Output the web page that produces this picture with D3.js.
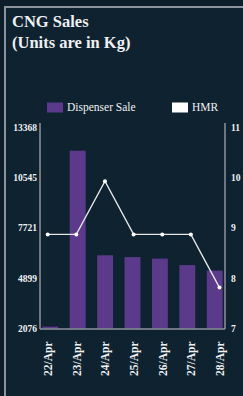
<!DOCTYPE html>
<html lang="en">
<head>
    <meta charset="UTF-8">
    <title>CNG Sales</title>
    <script src="https://d3js.org/d3.v7.min.js"></script>
    <style>
        body { margin: 0; background: #0d1d29; }
        svg text { font-family: "Liberation Serif", "DejaVu Serif", serif; fill: #eef0f2; }
        .tick-label { font-size: 9.5px; font-weight: bold; }
        .x-label { font-size: 11.5px; font-weight: bold; }
        .legend-label { font-size: 11.5px; }
        .title { font-size: 16.5px; font-weight: bold; }
    </style>
</head>
<body>
    <svg width="243" height="396"></svg>

    <script>
        // Data
        const days = ["22/Apr", "23/Apr", "24/Apr", "25/Apr", "26/Apr", "27/Apr", "28/Apr"];
        const dispenserSale = [2180, 12040, 6180, 6080, 5990, 5630, 5320];
        const hmr = [9, 9, 10, 9, 9, 9, 8];
        const leftDomain = [2076, 13368];
        const rightDomain = [7.23, 11.02];
        const leftTickLabels = ["2076", "4899", "7721", "10545", "13368"];
        const rightTickLabels = ["7", "8", "9", "10", "11"];

        const svg = d3.select("svg");

        // panel with border
        svg.append("rect")
            .attr("x", 0).attr("y", 0)
            .attr("width", 243).attr("height", 396)
            .style("fill", "#0d1d29");
        svg.append("rect")
            .attr("x", 5).attr("y", 7)
            .attr("width", 260).attr("height", 400)
            .style("fill", "#0f2230")
            .style("stroke", "#8d939a")
            .style("stroke-width", 2);

        // Titles
        svg.append("text").attr("class", "title").attr("x", 12).attr("y", 27).text("CNG Sales");
        svg.append("text").attr("class", "title").attr("x", 12).attr("y", 48).text("(Units are in Kg)");

        // Scales
        const plotLeft = 40, plotRight = 225, plotTop = 127, plotBottom = 328.5;

        const xBar = d3.scaleBand().domain(days)
            .range([plotLeft, plotRight])
            .paddingInner(0.42)
            .paddingOuter(0.085);

        const xPoint = d3.scalePoint().domain(days)
            .range([47.7, 219.5]);

        const yLeft = d3.scaleLinear().domain(leftDomain).range([plotBottom, plotTop]);
        const yRight = d3.scaleLinear().domain(rightDomain).range([plotBottom, plotTop]);

        const leftTicks = d3.range(5).map(i => leftDomain[0] + i * (leftDomain[1] - leftDomain[0]) / 4);
        const rightTicks = d3.range(5).map(i => rightDomain[0] + i * (rightDomain[1] - rightDomain[0]) / 4);

        // Bars
        svg.selectAll(".bar")
            .data(days)
            .enter().append("rect")
            .attr("class", "bar")
            .attr("x", d => xBar(d))
            .attr("width", xBar.bandwidth())
            .attr("y", (d, i) => yLeft(dispenserSale[i]))
            .attr("height", (d, i) => plotBottom - yLeft(dispenserSale[i]))
            .style("fill", "#5b3a8c");

        // Axes
        const axisColor = "#8f959c";
        const gLeft = svg.append("g")
            .attr("transform", "translate(" + plotLeft + ",0)")
            .call(d3.axisLeft(yLeft).tickValues(leftTicks)
                .tickFormat((d, i) => leftTickLabels[i]).tickSize(0).tickPadding(3));
        const gRight = svg.append("g")
            .attr("transform", "translate(" + plotRight + ",0)")
            .call(d3.axisRight(yRight).tickValues(rightTicks)
                .tickFormat((d, i) => rightTickLabels[i]).tickSize(0).tickPadding(6));
        const gBottom = svg.append("g")
            .attr("transform", "translate(0," + plotBottom + ")")
            .call(d3.axisBottom(xPoint).tickSize(0).tickPadding(0));

        [gLeft, gRight, gBottom].forEach(g => {
            g.select(".domain").style("stroke", axisColor).style("stroke-width", 1.5);
            g.selectAll("text").attr("class", "tick-label").style("fill", "#eef0f2");
        });
        gLeft.select(".domain").attr("d", "M0,123V" + (plotBottom + 0.5));
        gRight.select(".domain").attr("d", "M0,123V" + (plotBottom + 0.5));
        gBottom.select(".domain").attr("d", "M" + plotLeft + ",0.5H" + plotRight);

        gBottom.selectAll("text")
            .attr("class", "x-label")
            .attr("transform", "rotate(-90)")
            .attr("x", -13)
            .attr("y", 0)
            .attr("dy", "0.35em")
            .style("text-anchor", "end");

        // HMR line
        svg.append("path")
            .datum(days)
            .attr("d", d3.line()
                .x(d => xPoint(d))
                .y((d, i) => yRight(hmr[i])))
            .style("fill", "none")
            .style("stroke", "#e2e4e6")
            .style("stroke-width", 1.4);

        svg.selectAll(".dot")
            .data(days)
            .enter().append("circle")
            .attr("class", "dot")
            .attr("cx", d => xPoint(d))
            .attr("cy", (d, i) => yRight(hmr[i]))
            .attr("r", 2)
            .style("fill", "#ffffff");

        // Legend
        svg.append("rect")
            .attr("x", 47).attr("y", 102.5)
            .attr("width", 16).attr("height", 10)
            .style("fill", "#5b3a8c");
        svg.append("text").attr("class", "legend-label")
            .attr("x", 67).attr("y", 111).text("Dispenser Sale");
        svg.append("rect")
            .attr("x", 172).attr("y", 102.5)
            .attr("width", 16).attr("height", 10)
            .style("fill", "#ffffff");
        svg.append("text").attr("class", "legend-label")
            .attr("x", 192).attr("y", 111).text("HMR");
    </script>
</body>
</html>
